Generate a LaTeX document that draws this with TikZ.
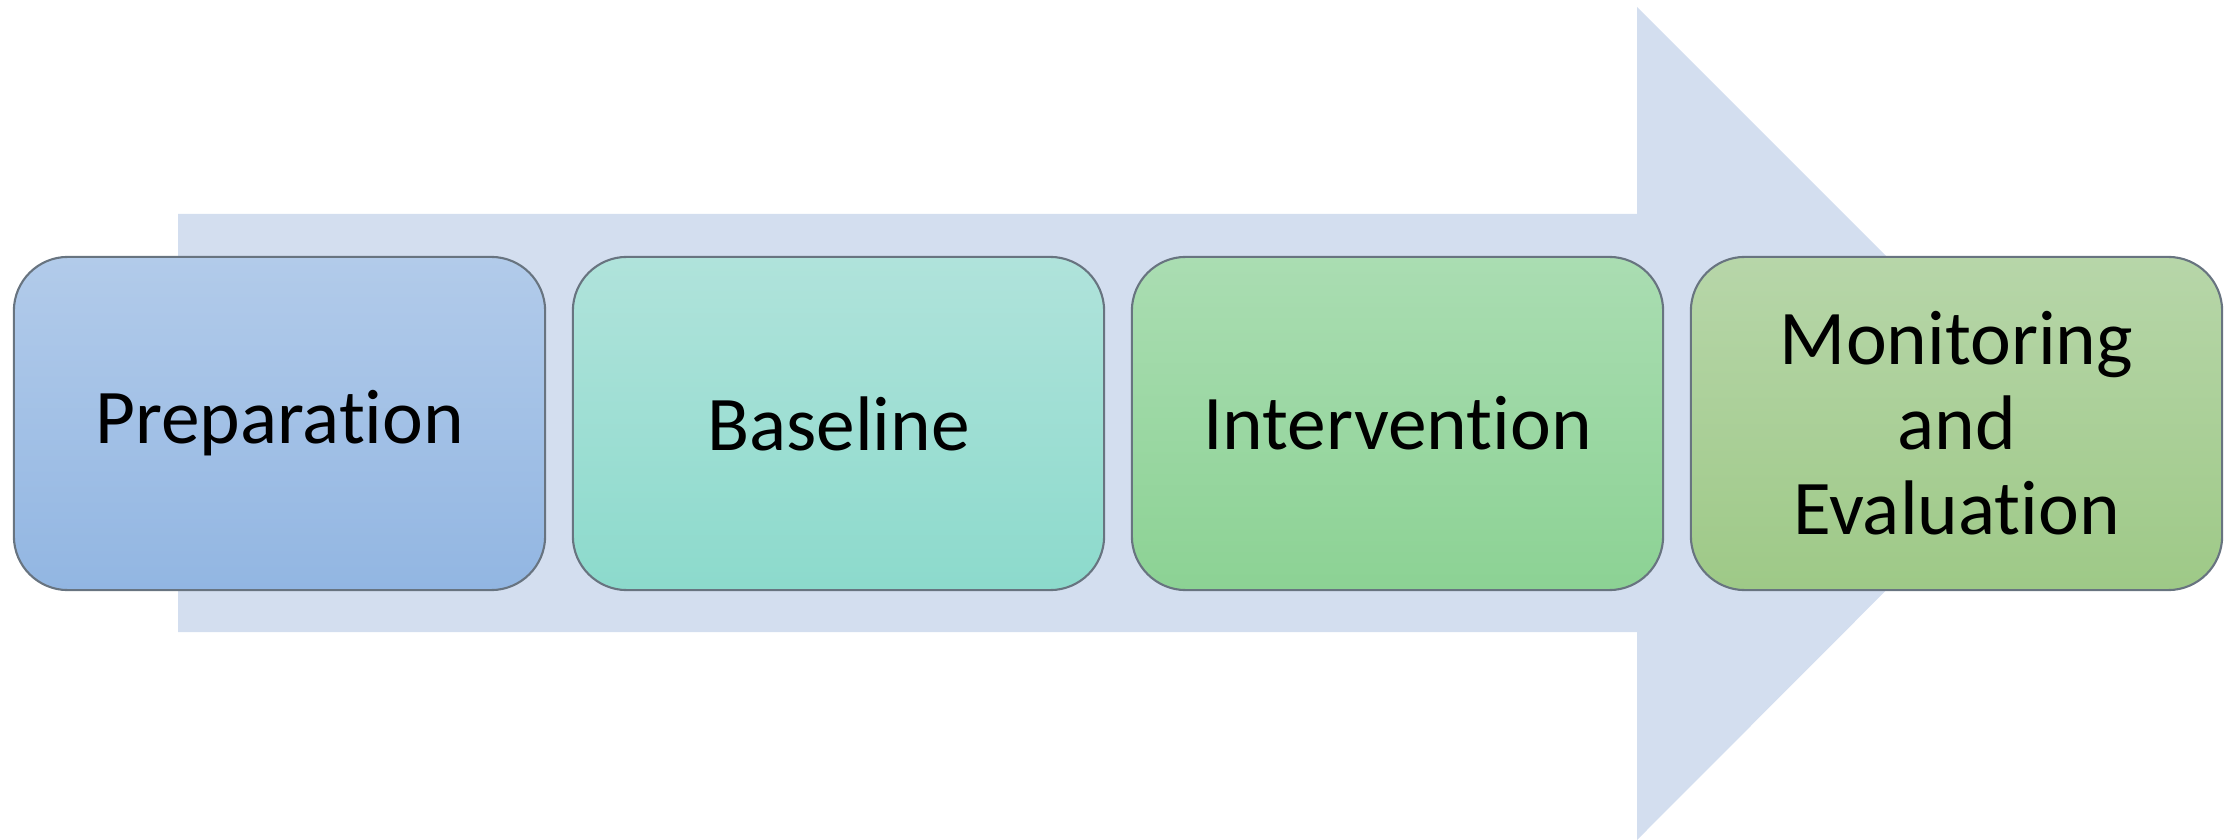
\documentclass[tikz,border=0pt]{standalone}
\usepackage{fontspec}
\setmainfont{Carlito}[Ligatures=NoCommon]
\usetikzlibrary{shadings}
\definecolor{arrowfill}{HTML}{D3DEEF}
\definecolor{boxline}{HTML}{687480}
\definecolor{aTop}{HTML}{B2CBEA}
\definecolor{aBot}{HTML}{92B6E2}
\definecolor{bTop}{HTML}{B0E3DB}
\definecolor{bBot}{HTML}{8CDACC}
\definecolor{cTop}{HTML}{AADDB2}
\definecolor{cBot}{HTML}{8CD294}
\definecolor{dTop}{HTML}{B7D6A9}
\definecolor{dBot}{HTML}{9EC987}
\tikzset{
  stagebox/.style={draw=boxline, line width=0.6pt, rounded corners=0.54cm,
    minimum width=5.31cm, minimum height=3.33cm, inner sep=0pt,
    align=center, text width=5cm,
    font=\fontsize{22}{24.2}\selectfont},
}
\begin{document}
\begin{tikzpicture}[x=0.01cm,y=-0.01cm]
\useasboundingbox (0,0) rectangle (2236,840);
% big background arrow
\fill[arrowfill] (178,214) -- (1637,214) -- (1637,7) -- (2053,423)
  -- (1637,840) -- (1637,632) -- (178,632) -- cycle;
% stage boxes
\node[stagebox, top color=aTop, bottom color=aBot] (prep) at (279.5,423.5) {Preparation};
\node[stagebox, top color=bTop, bottom color=bBot] (base) at (838.5,423.5) {Baseline};
\node[stagebox, top color=cTop, bottom color=cBot] (interv) at (1397.5,423.5) {Intervention};
\node[stagebox, top color=dTop, bottom color=dBot] (monit) at (1956.5,423.5) {Monitoring\\and\\Evaluation};
\end{tikzpicture}
\end{document}
